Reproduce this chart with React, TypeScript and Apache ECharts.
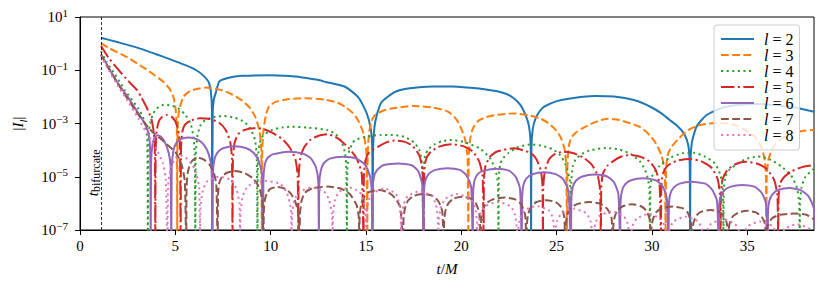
import React, { useEffect, useRef } from 'react';
import * as echarts from 'echarts';

// Values are [t/M, log10 |I_l|].
const l2: [number, number][] = [
  [1.1,0.22],[2.0,0.05],[3.0,-0.15],[4.0,-0.4],[4.7,-0.58],[5.5,-0.8],[6.1,-1.0],[6.5,-1.22],[6.75,-1.45],[6.87,-1.85],[6.92,-2.5],[6.93,-7.6],
  [6.96,-2.6],[7.02,-2.1],[7.14,-1.8],[7.31,-1.42],[7.8,-1.28],[8.5,-1.21],[9.9,-1.19],[11.0,-1.22],[11.66,-1.27],[12.4,-1.35],[12.9,-1.44],[13.9,-1.62],[14.6,-2.02],[15.03,-2.6],[15.25,-3.2],[15.33,-4.0],[15.35,-7.6],
  [15.37,-4.0],[15.45,-3.1],[15.6,-2.6],[15.82,-2.2],[16.5,-1.82],[17.3,-1.68],[18.5,-1.61],[19.5,-1.61],[20.5,-1.66],[21.3,-1.72],[21.88,-1.79],[22.4,-1.9],[22.75,-2.05],[23.1,-2.3],[23.35,-2.65],[23.55,-3.1],[23.64,-3.8],[23.66,-7.6],
  [23.68,-3.9],[23.75,-3.2],[23.9,-2.8],[24.1,-2.55],[24.35,-2.37],[25.05,-2.15],[25.9,-2.04],[27.0,-1.97],[28.0,-1.99],[29.05,-2.12],[29.92,-2.37],[30.5,-2.62],[30.9,-2.85],[31.35,-3.1],[31.7,-3.4],[31.9,-3.8],[31.98,-4.5],[32.0,-7.6],
  [32.02,-4.5],[32.1,-3.7],[32.35,-3.1],[32.87,-2.68],[33.74,-2.4],[34.6,-2.3],[35.6,-2.27],[36.6,-2.32],[37.7,-2.43],[38.5,-2.56],
];
const l3: [number, number][] = [
  [1.1,0.02],[1.5,-0.16],[2.5,-0.52],[3.3,-0.88],[3.9,-1.18],[4.4,-1.45],[4.7,-1.7],[4.9,-2.0],[5.02,-2.5],[5.08,-3.2],[5.1,-7.6],
  [5.12,-3.2],[5.2,-2.5],[5.42,-2.0],[5.8,-1.77],[6.6,-1.65],[7.49,-1.76],[8.0,-1.92],[8.53,-2.15],[8.95,-2.45],[9.22,-2.8],[9.42,-3.3],[9.51,-4.0],[9.54,-7.6],
  [9.56,-4.0],[9.63,-3.2],[9.75,-2.7],[9.92,-2.35],[10.3,-2.18],[10.97,-2.08],[11.8,-2.05],[12.9,-2.11],[13.5,-2.22],[13.9,-2.37],[14.3,-2.6],[14.6,-2.9],[14.88,-3.4],[15.02,-4.1],[15.07,-7.6],
  [15.09,-4.1],[15.17,-3.3],[15.3,-2.9],[15.47,-2.68],[15.9,-2.52],[16.34,-2.44],[17.5,-2.34],[18.5,-2.4],[19.3,-2.55],[19.75,-2.85],[19.97,-3.15],[20.2,-3.6],[20.33,-4.3],[20.37,-7.6],
  [20.39,-4.3],[20.47,-3.55],[20.6,-3.2],[20.84,-2.93],[21.3,-2.76],[21.88,-2.67],[22.75,-2.62],[23.6,-2.7],[24.1,-2.8],[24.49,-2.95],[24.9,-3.2],[25.2,-3.5],[25.4,-3.9],[25.5,-4.5],[25.55,-7.6],
  [25.57,-4.5],[25.65,-3.8],[25.8,-3.5],[26.0,-3.35],[26.3,-3.2],[26.73,-3.04],[27.2,-2.9],[27.69,-2.82],[28.3,-2.87],[28.9,-3.0],[29.4,-3.14],[29.9,-3.45],[30.21,-3.75],[30.5,-4.2],[30.67,-4.8],[30.72,-7.6],
  [30.74,-4.8],[30.82,-4.2],[31.0,-3.9],[31.43,-3.55],[31.9,-3.25],[32.4,-3.08],[33.0,-3.0],[33.6,-2.98],[34.2,-3.02],[34.8,-3.2],[35.4,-3.5],[35.75,-3.9],[35.92,-4.4],[35.98,-5.0],[36.0,-7.6],
  [36.02,-5.0],[36.1,-4.4],[36.25,-4.05],[36.45,-3.8],[36.9,-3.52],[37.32,-3.37],[37.9,-3.28],[38.5,-3.24],
];
const l4: [number, number][] = [
  [1.1,-0.28],[1.4,-0.7],[1.83,-1.15],[2.36,-1.75],[3.05,-2.43],[3.3,-2.75],[3.45,-3.1],[3.53,-3.7],[3.56,-7.6],
  [3.58,-3.8],[3.65,-3.1],[3.8,-2.7],[4.0,-2.45],[4.4,-2.3],[4.8,-2.33],[5.2,-2.45],[5.55,-2.7],[5.8,-3.0],[5.95,-3.5],[6.02,-4.2],[6.05,-7.6],
  [6.07,-4.2],[6.15,-3.5],[6.3,-3.1],[6.55,-2.88],[7.0,-2.76],[7.5,-2.72],[8.1,-2.78],[8.6,-2.93],[8.95,-3.2],[9.17,-3.6],[9.27,-4.2],[9.31,-7.6],
  [9.33,-4.4],[9.42,-3.75],[9.6,-3.45],[10.09,-3.24],[10.6,-3.15],[11.1,-3.12],[12.0,-3.16],[12.96,-3.24],[13.4,-3.4],[13.7,-3.65],[13.9,-4.1],[13.97,-4.7],[14.0,-7.6],
  [14.02,-4.8],[14.1,-4.1],[14.25,-3.8],[14.42,-3.63],[15.0,-3.5],[15.8,-3.43],[16.4,-3.43],[17.0,-3.5],[17.5,-3.7],[17.8,-4.0],[17.95,-4.6],[18.0,-7.6],
  [18.02,-4.8],[18.1,-4.2],[18.3,-3.95],[18.6,-3.78],[19.0,-3.66],[19.5,-3.62],[20.15,-3.7],[21.0,-3.95],[21.5,-4.3],[21.8,-4.75],[21.92,-5.3],[21.95,-7.6],
  [21.97,-5.0],[22.05,-4.5],[22.2,-4.3],[22.49,-4.1],[23.0,-3.88],[23.6,-3.79],[24.2,-3.83],[24.8,-3.97],[25.2,-4.2],[25.5,-4.6],[25.7,-5.2],[25.75,-7.6],
  [25.77,-5.2],[25.85,-4.6],[26.0,-4.35],[26.3,-4.15],[26.8,-4.0],[27.6,-3.92],[28.3,-3.98],[28.9,-4.15],[29.4,-4.45],[29.7,-4.85],[29.86,-5.4],[29.9,-7.6],
  [29.92,-5.4],[30.0,-5.0],[30.15,-4.8],[30.39,-4.6],[30.9,-4.3],[31.6,-4.12],[32.2,-4.1],[32.8,-4.25],[33.3,-4.5],[33.6,-4.95],[33.72,-5.5],[33.75,-7.6],
  [33.77,-5.5],[33.85,-5.0],[34.05,-4.75],[34.54,-4.48],[35.0,-4.32],[35.55,-4.24],[36.2,-4.35],[36.8,-4.62],[37.3,-4.95],[37.6,-5.4],[37.72,-6.0],[37.75,-7.6],
  [37.77,-6.0],[37.85,-5.4],[38.05,-5.0],[38.5,-4.7],
];
const l5: [number, number][] = [
  [1.1,-0.08],[1.49,-0.52],[2.0,-0.97],[2.53,-1.4],[3.0,-1.75],[3.22,-2.02],[3.5,-2.4],[3.75,-2.85],[3.88,-3.4],[3.93,-4.2],[3.95,-7.6],
  [3.97,-4.0],[4.02,-3.3],[4.12,-2.95],[4.3,-2.76],[4.55,-2.68],[4.8,-2.74],[5.0,-2.92],[5.15,-3.25],[5.24,-3.8],[5.28,-7.6],
  [5.3,-3.9],[5.37,-3.3],[5.5,-3.05],[5.76,-2.9],[6.3,-2.8],[6.8,-2.83],[7.3,-2.97],[7.65,-3.25],[7.88,-3.7],[7.97,-4.3],[8.0,-7.6],
  [8.02,-4.4],[8.1,-3.75],[8.3,-3.4],[8.6,-3.25],[9.1,-3.18],[9.6,-3.2],[10.1,-3.35],[10.6,-3.58],[11.0,-3.9],[11.3,-4.35],[11.42,-5.0],[11.45,-7.6],
  [11.47,-5.0],[11.55,-4.3],[11.75,-3.9],[12.1,-3.6],[12.6,-3.44],[13.0,-3.4],[13.5,-3.55],[14.07,-3.9],[14.5,-4.3],[14.78,-4.9],[14.87,-7.6],
  [14.89,-5.0],[14.97,-4.4],[15.15,-4.1],[15.64,-3.87],[16.1,-3.7],[16.5,-3.64],[17.0,-3.68],[17.45,-3.85],[17.8,-4.2],[17.97,-4.8],[18.03,-7.6],
  [18.05,-4.9],[18.13,-4.4],[18.35,-4.1],[18.8,-3.88],[19.5,-3.78],[20.1,-3.85],[20.6,-4.05],[20.95,-4.45],[21.12,-5.0],[21.17,-7.6],
  [21.19,-5.1],[21.27,-4.6],[21.5,-4.25],[21.88,-4.05],[22.75,-3.93],[23.62,-4.1],[23.95,-4.35],[24.18,-4.8],[24.26,-5.4],[24.28,-7.6],
  [24.3,-5.4],[24.38,-4.8],[24.6,-4.35],[24.9,-4.15],[25.35,-4.06],[25.9,-4.12],[26.4,-4.28],[26.85,-4.55],[27.15,-4.95],[27.28,-5.5],[27.32,-7.6],
  [27.34,-5.5],[27.42,-4.9],[27.65,-4.6],[27.95,-4.42],[28.4,-4.24],[28.85,-4.18],[29.4,-4.25],[29.86,-4.42],[30.2,-4.75],[30.4,-5.3],[30.47,-7.6],
  [30.49,-5.4],[30.57,-4.9],[30.8,-4.6],[31.3,-4.4],[32.0,-4.33],[32.6,-4.42],[33.15,-4.68],[33.45,-5.1],[33.57,-5.7],[33.6,-7.6],
  [33.62,-5.7],[33.7,-5.1],[33.95,-4.75],[34.4,-4.52],[34.95,-4.44],[35.5,-4.5],[36.0,-4.7],[36.4,-5.1],[36.58,-5.7],[36.62,-7.6],
  [36.64,-5.8],[36.72,-5.25],[36.95,-5.0],[37.32,-4.8],[37.9,-4.63],[38.5,-4.56],
];
const l6: [number, number][] = [
  [1.1,-0.41],[1.5,-0.9],[2.0,-1.5],[2.5,-2.0],[3.0,-2.55],[3.4,-3.0],[3.6,-3.4],[3.68,-4.0],[3.71,-7.6],
  [3.73,-4.4],[3.8,-3.8],[3.9,-3.55],[4.05,-3.44],[4.25,-3.5],[4.45,-3.7],[4.65,-4.1],[4.75,-4.6],[4.79,-7.6],
  [4.81,-4.7],[4.88,-4.1],[5.0,-3.8],[5.25,-3.6],[5.7,-3.53],[6.15,-3.6],[6.5,-3.8],[6.75,-4.15],[6.9,-4.7],[6.95,-7.6],
  [6.97,-4.9],[7.05,-4.35],[7.2,-4.1],[7.5,-3.93],[8.1,-3.85],[8.7,-3.92],[9.1,-4.1],[9.4,-4.45],[9.55,-5.0],[9.6,-7.6],
  [9.62,-5.1],[9.68,-4.6],[9.8,-4.33],[10.1,-4.16],[10.95,-4.06],[11.7,-4.13],[12.1,-4.3],[12.38,-4.65],[12.5,-5.2],[12.53,-7.6],
  [12.55,-5.3],[12.62,-4.8],[12.78,-4.5],[13.1,-4.32],[13.8,-4.25],[14.5,-4.32],[14.95,-4.55],[15.2,-4.95],[15.3,-5.5],[15.33,-7.6],
  [15.35,-5.5],[15.42,-5.0],[15.58,-4.75],[15.9,-4.57],[16.7,-4.5],[17.4,-4.57],[17.75,-4.8],[17.95,-5.3],[18.02,-7.6],
  [18.04,-5.6],[18.11,-5.15],[18.28,-4.9],[18.6,-4.75],[19.3,-4.68],[19.95,-4.75],[20.3,-4.98],[20.52,-5.4],[20.6,-7.6],
  [20.62,-5.6],[20.69,-5.15],[20.86,-4.9],[21.2,-4.77],[21.85,-4.7],[22.5,-4.77],[22.85,-5.0],[23.08,-5.45],[23.17,-7.6],
  [23.19,-5.75],[23.26,-5.3],[23.43,-5.05],[23.75,-4.9],[24.33,-4.83],[24.95,-4.9],[25.35,-5.1],[25.62,-5.55],[25.75,-7.6],
  [25.77,-5.85],[25.84,-5.4],[26.01,-5.15],[26.35,-4.99],[27.0,-4.92],[27.65,-4.99],[28.0,-5.2],[28.24,-5.65],[28.33,-7.6],
  [28.35,-6.0],[28.42,-5.55],[28.58,-5.3],[28.9,-5.13],[29.55,-5.06],[30.2,-5.13],[30.55,-5.35],[30.78,-5.8],[30.87,-7.6],
  [30.89,-6.1],[30.96,-5.65],[31.13,-5.42],[31.45,-5.26],[32.1,-5.19],[32.8,-5.26],[33.15,-5.48],[33.41,-5.9],[33.5,-7.6],
  [33.52,-6.2],[33.59,-5.78],[33.76,-5.54],[34.1,-5.38],[34.75,-5.31],[35.4,-5.38],[35.75,-5.6],[35.98,-6.0],[36.07,-7.6],
  [36.09,-6.3],[36.16,-5.9],[36.33,-5.65],[36.65,-5.49],[37.2,-5.42],[37.8,-5.5],[38.2,-5.72],[38.5,-6.2],[38.65,-7.6],
];
const l7: [number, number][] = [
  [1.1,-0.41],[1.5,-0.93],[2.2,-1.75],[2.9,-2.5],[3.3,-2.9],[3.75,-3.28],[4.4,-3.68],[5.05,-4.12],[5.35,-4.6],[5.5,-5.2],[5.57,-7.6],
  [5.59,-5.4],[5.65,-4.85],[5.78,-4.52],[5.95,-4.35],[6.2,-4.28],[6.5,-4.36],[6.8,-4.55],[7.02,-4.85],[7.15,-5.3],[7.22,-7.6],
  [7.24,-5.7],[7.3,-5.25],[7.45,-5.0],[7.7,-4.85],[8.1,-4.78],[8.6,-4.85],[9.05,-5.05],[9.4,-5.4],[9.56,-5.9],[9.62,-7.6],
  [9.64,-6.3],[9.7,-5.85],[9.82,-5.6],[10.0,-5.45],[10.35,-5.38],[10.75,-5.45],[11.05,-5.62],[11.3,-5.95],[11.45,-6.4],[11.52,-7.6],
  [11.54,-6.4],[11.62,-5.9],[11.8,-5.6],[12.2,-5.43],[13.0,-5.37],[13.7,-5.45],[14.15,-5.65],[14.5,-6.05],[14.62,-6.5],[14.65,-7.6],
  [14.67,-6.5],[14.74,-6.05],[14.88,-5.78],[15.15,-5.58],[15.65,-5.5],[16.15,-5.58],[16.5,-5.78],[16.8,-6.15],[16.95,-7.6],
  [16.97,-6.6],[17.04,-6.2],[17.2,-5.9],[17.5,-5.72],[18.0,-5.65],[18.5,-5.72],[18.8,-5.92],[19.0,-6.3],[19.08,-7.6],
  [19.1,-6.7],[19.17,-6.28],[19.32,-6.0],[19.6,-5.82],[20.05,-5.75],[20.5,-5.82],[20.78,-6.02],[20.95,-6.4],[21.02,-7.6],
  [21.04,-6.7],[21.11,-6.3],[21.28,-6.02],[21.65,-5.85],[22.28,-5.78],[22.85,-5.86],[23.15,-6.05],[23.35,-6.45],[23.42,-7.6],
  [23.44,-6.8],[23.51,-6.4],[23.67,-6.12],[23.95,-5.95],[24.45,-5.88],[24.95,-5.95],[25.22,-6.13],[25.4,-6.5],[25.45,-7.6],
  [25.47,-6.85],[25.55,-6.45],[25.72,-6.18],[26.1,-6.02],[26.7,-5.95],[27.3,-6.02],[27.65,-6.2],[27.88,-6.55],[27.95,-7.6],
  [27.97,-6.9],[28.04,-6.52],[28.2,-6.25],[28.5,-6.1],[28.95,-6.03],[29.4,-6.1],[29.7,-6.27],[29.88,-6.6],[29.95,-7.6],
  [29.97,-6.95],[30.05,-6.6],[30.22,-6.33],[30.55,-6.18],[31.1,-6.12],[31.6,-6.18],[31.88,-6.35],[32.04,-6.7],[32.1,-7.6],
  [32.12,-7.0],[32.19,-6.7],[32.34,-6.45],[32.6,-6.31],[33.05,-6.25],[33.5,-6.31],[33.76,-6.47],[33.93,-6.75],[34.0,-7.6],
  [34.02,-7.0],[34.09,-6.72],[34.25,-6.48],[34.55,-6.34],[35.0,-6.28],[35.45,-6.34],[35.75,-6.5],[35.93,-6.78],[36.0,-7.6],
  [36.02,-7.05],[36.1,-6.8],[36.3,-6.56],[36.7,-6.43],[37.45,-6.38],[38.1,-6.43],[38.5,-6.6],
];
const l8: [number, number][] = [
  [1.1,-0.45],[1.5,-1.0],[2.0,-1.6],[2.5,-2.15],[3.05,-2.8],[3.5,-3.35],[4.0,-3.95],[4.35,-4.5],[4.5,-5.1],[4.58,-7.6],
  [4.63,-5.2],[4.79,-4.62],[5.0,-4.3],[5.25,-4.2],[5.55,-4.28],[5.9,-4.55],[6.1,-4.9],[6.25,-5.4],[6.3,-7.6],
  [6.32,-6.2],[6.45,-5.5],[6.7,-5.15],[7.3,-5.0],[7.9,-5.12],[8.2,-5.45],[8.36,-6.0],[8.4,-7.6],
  [8.42,-6.3],[8.55,-5.7],[8.85,-5.33],[9.7,-5.15],[10.5,-5.27],[10.85,-5.6],[11.06,-6.2],[11.1,-7.6],
  [11.12,-6.5],[11.24,-5.9],[11.5,-5.58],[12.15,-5.4],[12.8,-5.55],[13.05,-5.85],[13.21,-6.4],[13.25,-7.6],
  [13.27,-6.5],[13.37,-5.9],[13.58,-5.58],[14.1,-5.4],[14.65,-5.56],[14.85,-5.85],[14.97,-6.4],[15.0,-7.6],
  [15.02,-6.5],[15.12,-5.95],[15.33,-5.63],[15.95,-5.45],[16.55,-5.62],[16.72,-5.95],[16.82,-6.5],[16.85,-7.6],
  [16.87,-6.6],[16.97,-6.05],[17.2,-5.72],[17.8,-5.55],[18.45,-5.72],[18.67,-6.05],[18.77,-6.6],[18.8,-7.6],
  [18.82,-6.7],[18.93,-6.15],[19.17,-5.82],[19.75,-5.65],[20.45,-5.82],[20.72,-6.15],[20.82,-6.7],[20.85,-7.6],
  [20.87,-7.0],[20.98,-6.45],[21.22,-6.12],[21.9,-5.95],[22.6,-6.12],[22.82,-6.45],[22.92,-7.0],[22.95,-7.6],
  [22.97,-7.1],[23.08,-6.55],[23.3,-6.27],[23.95,-6.1],[24.6,-6.27],[24.8,-6.55],[24.88,-7.1],[24.9,-7.6],
  [24.92,-7.2],[25.03,-6.65],[25.27,-6.37],[25.9,-6.2],[26.55,-6.37],[26.77,-6.65],[26.88,-7.2],[26.9,-7.6],
  [26.92,-7.3],[27.03,-6.75],[27.25,-6.47],[27.88,-6.3],[28.5,-6.47],[28.72,-6.75],[28.83,-7.3],[28.85,-7.6],
  [28.87,-7.4],[28.98,-6.85],[29.2,-6.57],[29.82,-6.4],[30.45,-6.57],[30.67,-6.85],[30.78,-7.4],[30.8,-7.6],
  [30.93,-6.95],[31.15,-6.67],[31.78,-6.5],[32.4,-6.67],[32.62,-6.95],[32.75,-7.6],
  [32.88,-7.05],[33.1,-6.77],[33.72,-6.6],[34.35,-6.77],[34.57,-7.05],[34.7,-7.6],
  [34.83,-7.13],[35.05,-6.85],[35.68,-6.68],[36.3,-6.85],[36.52,-7.13],[36.65,-7.6],
  [36.78,-7.23],[37.0,-6.95],[37.62,-6.78],[38.25,-6.95],[38.47,-7.23],[38.6,-7.6],
];

const seriesNames = ['l = 2', 'l = 3', 'l = 4', 'l = 5', 'l = 6', 'l = 7', 'l = 8'];
const seriesData = [l2, l3, l4, l5, l6, l7, l8];
const xTicks = [0, 5, 10, 15, 20, 25, 30, 35];
const yTicks = [-7, -5, -3, -1, 1]; // exponents of the labelled decades
const tBifurcate = 1.1;

const FONT = 'Liberation Serif';
const colors = ['#1f77b4', '#ff7f0e', '#2ca02c', '#d62728', '#9467bd', '#8c564b', '#e377c2'];
const dashes: (string | number[])[] = [
  'solid', [7.8, 3.4], [2.1, 3.5], [13.4, 3.4, 2.1, 3.4], 'solid', [7.8, 3.4], [2.1, 3.5],
];

export default function App() {
  const ref = useRef<HTMLDivElement>(null);
  useEffect(() => {
    const chart = echarts.init(ref.current!, null, { renderer: 'svg' });
    const series: any[] = seriesData.map((d, i) => ({
      name: seriesNames[i],
      type: 'line',
      data: d,
      symbol: 'none',
      showSymbol: false,
      smooth: 0.2,
      clip: true,
      lineStyle: { color: colors[i], width: 2, type: dashes[i] },
      itemStyle: { color: colors[i] },
      emphasis: { disabled: true },
      z: 2 + i * 0.01,
    }));
    series[0].markLine = {
      silent: true,
      symbol: ['none', 'none'],
      label: { show: false },
      lineStyle: { color: '#000', width: 0.8, type: [3, 2] },
      data: [{ xAxis: tBifurcate }],
    };
    chart.setOption({
      animation: false,
      backgroundColor: '#fff',
      textStyle: { fontFamily: FONT },
      grid: { left: 77, right: 17, top: 17, bottom: 60, show: true, borderColor: '#000', borderWidth: 1, backgroundColor: 'transparent' },
      legend: {
        orient: 'vertical',
        left: 714,
        top: 25,
        itemWidth: 33,
        itemHeight: 10,
        itemGap: 0,
        padding: [6, 6, 7, 6],
        backgroundColor: 'rgba(255,255,255,0.8)',
        borderColor: '#cccccc',
        borderWidth: 1,
        borderRadius: 3,
        selectedMode: false,
        itemStyle: { opacity: 0 },
        data: seriesNames,
        formatter: (name: string) => `{i|l} = ${name.split('= ')[1]}`,
        textStyle: {
          fontFamily: FONT, fontSize: 16, color: '#000', lineHeight: 14.1, padding: [0, 0, 0, 5],
          rich: { i: { fontFamily: FONT, fontSize: 16, fontStyle: 'italic', color: '#000', lineHeight: 14.1 } },
        },
      },
      xAxis: {
        type: 'value', min: 0, max: 38.5,
        axisLine: { show: true, onZero: false, lineStyle: { color: '#000', width: 1 } },
        axisTick: { show: true, inside: false, length: 5, lineStyle: { color: '#000', width: 1 }, customValues: xTicks },
        axisLabel: { fontFamily: FONT, fontSize: 15, color: '#000', margin: 8, customValues: xTicks },
        splitLine: { show: false },
        name: '{i|t}/{i|M}',
        nameLocation: 'middle',
        nameGap: 31,
        nameTextStyle: { fontFamily: FONT, fontSize: 15, color: '#000', rich: { i: { fontFamily: FONT, fontSize: 15, fontStyle: 'italic', color: '#000' } } },
      },
      yAxis: {
        type: 'value', min: -7, max: 1,
        axisLine: { show: true, onZero: false, lineStyle: { color: '#000', width: 1 } },
        axisTick: { show: true, inside: false, length: 5, lineStyle: { color: '#000', width: 1 }, customValues: yTicks },
        axisLabel: {
          customValues: yTicks,
          margin: 12,
          fontFamily: FONT,
          formatter: (v: number) => {
            const e = Math.round(v);
            return `{b|10}{s|${e < 0 ? '\u2212' + -e : e}}`;
          },
          rich: {
            b: { fontFamily: FONT, fontSize: 15, color: '#000', lineHeight: 20 },
            s: { fontFamily: FONT, fontSize: 11, color: '#000', lineHeight: 11, verticalAlign: 'top' },
          },
        },
        splitLine: { show: false },
        name: '|{i|I}{s|l}|',
        nameLocation: 'middle',
        nameGap: 52,
        nameTextStyle: {
          fontFamily: FONT, fontSize: 15, color: '#000', lineHeight: 20,
          rich: {
            i: { fontFamily: FONT, fontSize: 15, fontStyle: 'italic', color: '#000', lineHeight: 20 },
            s: { fontFamily: FONT, fontSize: 11, fontStyle: 'italic', color: '#000', lineHeight: 11, verticalAlign: 'bottom' },
          },
        },
      },
      series,
    });
    const p = chart.convertToPixel({ gridIndex: 0 }, [tBifurcate, -4.85]) as number[];
    chart.setOption({
      graphic: [{
        type: 'text',
        x: p[0] - 8,
        y: p[1],
        rotation: Math.PI / 2,
        style: {
          text: '{i|t}{s|bifurcate}',
          align: 'center',
          verticalAlign: 'middle',
          rich: {
            i: { fontFamily: FONT, fontSize: 15, fontStyle: 'italic', fill: '#000', lineHeight: 18 },
            s: { fontFamily: FONT, fontSize: 12, fill: '#000', lineHeight: 12, verticalAlign: 'bottom' },
          },
        },
        z: 10,
      }],
    });
    return () => chart.dispose();
  }, []);
  return <div ref={ref} style={{ position: 'absolute', left: 0, top: 0, width: 831, height: 290 }} />;
}
